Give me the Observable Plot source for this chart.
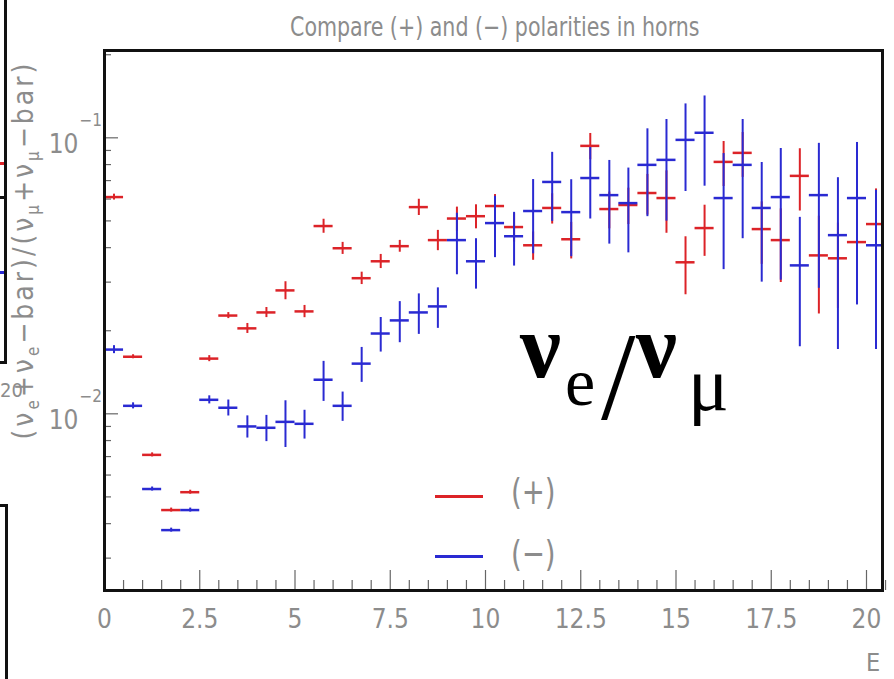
<!DOCTYPE html>
<html>
<head>
<meta charset="utf-8">
<script src="https://cdn.jsdelivr.net/npm/d3@7"></script>
<script src="https://cdn.jsdelivr.net/npm/@observablehq/plot@0.6"></script>
<style>
  html, body { margin: 0; padding: 0; background: #fff; }
  #page { position: relative; width: 894px; height: 679px; overflow: hidden; background: #fff; }
  #chart { position: absolute; left: 0; top: 0; }
  .lbl { position: absolute; color: #8c8c8c; font-family: "Liberation Sans Narrow", "DejaVu Sans Condensed", "Liberation Sans", sans-serif; white-space: nowrap; line-height: 1; }
  .edge { position: absolute; background: #111; }
  .greek { position: absolute; font-family: "Liberation Serif", "DejaVu Serif", serif; color: #000; line-height: 1; white-space: nowrap; }
</style>
</head>
<body>
<div id="page">
  <div id="chart"></div>
</div>
<script>
// Bin centres (GeV), 0.5 GeV wide bins
const energies = [0.25, 0.75, 1.25, 1.75, 2.25, 2.75, 3.25, 3.75, 4.25, 4.75,
  5.25, 5.75, 6.25, 6.75, 7.25, 7.75, 8.25, 8.75, 9.25, 9.75,
  10.25, 10.75, 11.25, 11.75, 12.25, 12.75, 13.25, 13.75, 14.25, 14.75,
  15.25, 15.75, 16.25, 16.75, 17.25, 17.75, 18.25, 18.75, 19.25, 19.75, 20.25];
const binHalfWidth = 0.25;

// (+) horn polarity: nu_e / nu_mu ratio and its error
const plusRatio = [0.0610, 0.0161, 0.0071, 0.00448, 0.0052, 0.01585, 0.0227, 0.0204, 0.0233, 0.0280,
  0.0235, 0.0479, 0.0398, 0.0310, 0.0357, 0.0405, 0.0561, 0.0426, 0.0510, 0.0520,
  0.0566, 0.0475, 0.0408, 0.0557, 0.0429, 0.0935, 0.0552, 0.0571, 0.0631, 0.0605,
  0.0354, 0.0471, 0.0818, 0.0882, 0.0467, 0.0426, 0.0728, 0.0375, 0.0366, 0.0419, 0.0487];
const plusError = [0.0015, 0.00027, 0.00012, 0.000075, 0.000087, 0.0004, 0.00057, 0.00085, 0.00098, 0.0021,
  0.0012, 0.0028, 0.0020, 0.0016, 0.0021, 0.0020, 0.0038, 0.0036, 0.0051, 0.0052,
  0.0057, 0.0056, 0.0048, 0.0070, 0.0065, 0.0102, 0.0084, 0.0086, 0.0106, 0.0154,
  0.0084, 0.0099, 0.0152, 0.0163, 0.0119, 0.0127, 0.0185, 0.0145, 0.0125, 0.0143, 0.0166];

// (-) horn polarity
const minusRatio = [0.01709, 0.01069, 0.00534, 0.00379, 0.00448, 0.01124, 0.01052, 0.0090, 0.0089, 0.00935,
  0.0092, 0.01329, 0.01069, 0.0152, 0.01954, 0.0218, 0.0233, 0.0245, 0.0426, 0.0357,
  0.0491, 0.0440, 0.0543, 0.0692, 0.0538, 0.0715, 0.0620, 0.0580, 0.0798, 0.0832,
  0.0983, 0.1043, 0.0605, 0.0798, 0.0557, 0.0610, 0.0345, 0.0620, 0.0444, 0.0605, 0.0408];
const minusError = [0.00057, 0.00027, 0.00009, 0.000063, 0.000075, 0.00038, 0.0007, 0.00083, 0.00097, 0.0018,
  0.0011, 0.0022, 0.0013, 0.0022, 0.0028, 0.0037, 0.0039, 0.0041, 0.0107, 0.0074,
  0.0123, 0.0097, 0.0163, 0.0194, 0.0167, 0.0207, 0.0208, 0.0197, 0.0280, 0.0333,
  0.0344, 0.0375, 0.0272, 0.0367, 0.0257, 0.0305, 0.0170, 0.0335, 0.0273, 0.0357, 0.0237];

// Axis ticks
const xMajorTicks = [0, 2.5, 5, 7.5, 10, 12.5, 15, 17.5, 20];
const xMinorTicks = [0.5, 1, 1.5, 2, 3, 3.5, 4, 4.5, 5.5, 6, 6.5, 7, 8, 8.5, 9, 9.5,
  10.5, 11, 11.5, 12, 13, 13.5, 14, 14.5, 15.5, 16, 16.5, 17, 18, 18.5, 19, 19.5, 20.5];
const yMajorTicks = [0.01, 0.1];
const yExponents = ["\u22122", "\u22121"];
const yMinorTicks = [0.003, 0.004, 0.005, 0.006, 0.007, 0.008, 0.009,
  0.02, 0.03, 0.04, 0.05, 0.06, 0.07, 0.08, 0.09, 0.2];

const RED = "#dc2328";
const BLUE = "#2a2ad2";

const plus = energies.map((e, i) => ({e, v: plusRatio[i], err: plusError[i]}));
const minus = energies.map((e, i) => ({e, v: minusRatio[i], err: minusError[i]}));

const W = 894, H = 679;
const mL = 104, mR = 12, mT = 50, mB = 89;
const frameW = W - mL - mR, frameH = H - mT - mB;
const labelFont = '"Liberation Sans Narrow", "DejaVu Sans Condensed", "Liberation Sans", sans-serif';

function errorBars(rows, color) {
  return [
    Plot.ruleX(rows, {x: "e", y1: d => d.v - d.err, y2: d => d.v + d.err, stroke: color, strokeWidth: 2, clip: true}),
    Plot.ruleY(rows, {y: "v", x1: d => d.e - binHalfWidth, x2: d => d.e + binHalfWidth, stroke: color, strokeWidth: 2.5, clip: true})
  ];
}

const chart = Plot.plot({
  width: W,
  height: H,
  marginLeft: mL,
  marginRight: mR,
  marginTop: mT,
  marginBottom: mB,
  style: {background: "transparent", overflow: "visible"},
  x: {domain: [0, 20.42], axis: null},
  y: {type: "log", domain: [0.00229, 0.2072], axis: null},
  marks: [
    // ticks drawn inside the frame
    Plot.tickX(xMinorTicks, {x: d => d, insetTop: frameH - 10, stroke: "#666", strokeWidth: 1.2}),
    Plot.tickX(xMajorTicks, {x: d => d, insetTop: frameH - 20, stroke: "#666", strokeWidth: 1.2}),
    Plot.tickY(yMinorTicks, {y: d => d, insetRight: frameW - 7, stroke: "#666", strokeWidth: 1.2}),
    Plot.tickY(yMajorTicks, {y: d => d, insetRight: frameW - 14, stroke: "#666", strokeWidth: 1.2}),
    // data
    ...errorBars(plus, RED),
    ...errorBars(minus, BLUE),
    Plot.frame({stroke: "#111", strokeWidth: 3}),
    // x tick labels
    Plot.text(xMajorTicks, {x: d => d, frameAnchor: "bottom", dy: 29, lineAnchor: "middle",
      text: d => String(d), fill: "#8c8c8c", fontSize: 26, fontFamily: labelFont}),
    // y tick labels: "10" with a raised exponent
    Plot.text(yMajorTicks, {y: d => d, frameAnchor: "left", dx: -26, dy: 15, lineAnchor: "bottom", textAnchor: "end",
      text: () => "10", fill: "#8c8c8c", fontSize: 26, fontFamily: labelFont}),
    Plot.text(yMajorTicks, {y: d => d, frameAnchor: "left", dx: -25, dy: -12, lineAnchor: "bottom", textAnchor: "start",
      text: (d, i) => yExponents[i], fill: "#8c8c8c", fontSize: 17, fontFamily: labelFont})
  ]
});
document.getElementById("chart").appendChild(chart);

// Overlay texts and legend
const page = document.getElementById("page");
function add(html, cls, css) {
  const el = document.createElement("div");
  el.className = cls;
  el.innerHTML = html;
  Object.assign(el.style, css);
  page.appendChild(el);
  return el;
}

// Title
add("Compare (+) and (\u2212) polarities in horns", "lbl",
  {left: "290px", top: "14px", fontSize: "26px", transform: "scaleX(0.88)", transformOrigin: "left top"});

// Y-axis title, rotated
add("(&nu;<sub style='font-size:60%'>e</sub>+&nu;<sub style='font-size:60%'>e</sub>\u2212bar)/(&nu;<sub style='font-size:60%'>&mu;</sub>+&nu;<sub style='font-size:60%'>&mu;</sub>\u2212bar)",
  "lbl", {left: "26px", top: "250px", fontSize: "28px", letterSpacing: "3px",
          transform: "translate(-50%, -50%) rotate(-90deg)", transformOrigin: "center"});

// X-axis title
add("E", "lbl", {left: "866px", top: "650px", fontSize: "25px"});

// Legend
add("", "edge", {left: "435px", top: "495px", width: "48px", height: "3px", background: RED});
add("", "edge", {left: "435px", top: "555px", width: "48px", height: "3px", background: BLUE});
add("(+)", "lbl", {left: "511px", top: "474px", fontSize: "36px", transform: "scaleX(0.85)", transformOrigin: "left top"});
add("(\u2212)", "lbl", {left: "511px", top: "536px", fontSize: "36px", transform: "scaleX(0.85)", transformOrigin: "left top"});

// nu_e / nu_mu annotation
add("&nu;", "greek", {left: "520px", top: "300px", fontSize: "92px", fontWeight: "bold"});
add("e", "greek", {left: "565px", top: "348px", fontSize: "68px"});
add("/", "greek", {left: "601px", top: "316px", fontSize: "124px"});
add("&nu;", "greek", {left: "636px", top: "300px", fontSize: "92px", fontWeight: "bold"});
add("&mu;", "greek", {left: "688px", top: "346px", fontSize: "76px"});

// Edge of the neighbouring panels on the left
add("", "edge", {left: "4px", top: "0px", width: "3px", height: "364px"});
add("", "edge", {left: "0px", top: "196px", width: "7px", height: "3px"});
add("", "edge", {left: "0px", top: "361px", width: "7px", height: "3px"});
add("", "edge", {left: "0px", top: "162px", width: "4px", height: "3px", background: RED});
add("", "edge", {left: "0px", top: "271px", width: "4px", height: "3px", background: BLUE});
add("", "edge", {left: "5px", top: "504px", width: "3px", height: "175px"});
add("", "edge", {left: "0px", top: "504px", width: "8px", height: "3px"});
add("20", "lbl", {left: "0px", top: "380px", fontSize: "20px"});
</script>
</body>
</html>
